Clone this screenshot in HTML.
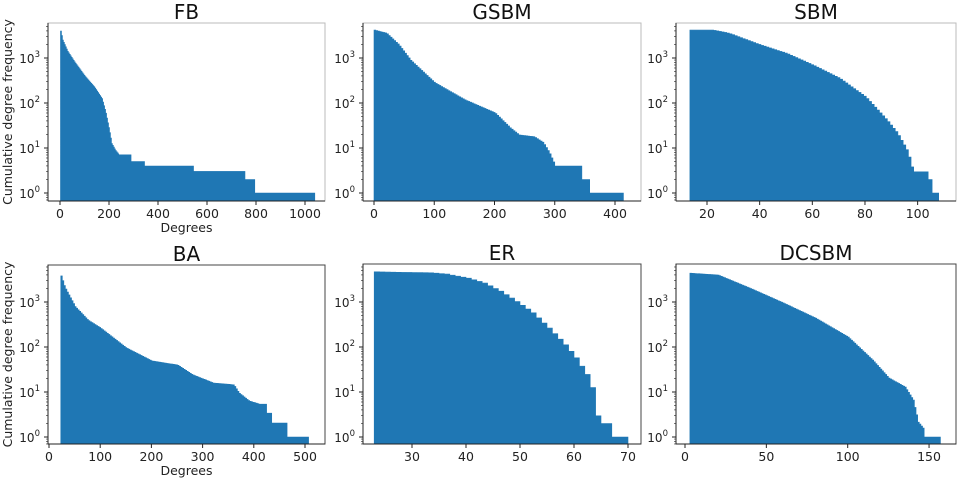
<!DOCTYPE html>
<html><head><meta charset="utf-8"><style>
body{margin:0;background:#fff;}
svg{display:block;font-family:"DejaVu Sans","Liberation Sans",sans-serif;}
</style></head><body>
<svg id="s" width="957" height="481" xmlns="http://www.w3.org/2000/svg"></svg>
<script>
const S=document.getElementById('s');let h='';
function interp(k,d){if(d<=k[0][0])return k[0][1];for(let i=1;i<k.length;i++){if(d<=k[i][0]){const a=k[i-1],b=k[i];return a[1]+(b[1]-a[1])*(d-a[0])/(b[0]-a[0]);}}return k[k.length-1][1];}
function panel(o){
 const {x0,x1,y0,y1,base,dec,xa,xb,title,ticks,steps,ylab,xlab}=o;
 const X=d=>xa+xb*d, Y=l=>base-dec*l;
 let p='M'+X(steps[0][0])+','+y1;
 for(const s of steps){p+=' L'+X(s[0])+','+Y(s[2])+' L'+X(s[1])+','+Y(s[2]);}
 p+=' L'+X(steps[steps.length-1][1])+','+y1+' Z';
 h+=`<path d="${p}" fill="#1f77b4" stroke="#1f77b4" stroke-width="0.6"/>`;
 h+=`<rect x="${x0}" y="${y0}" width="${x1-x0}" height="${y1-y0}" fill="none" stroke="${o.fc||'#bbb'}" stroke-width="1"/>`;
 h+=`<line x1="${x0}" y1="${y0}" x2="${x0}" y2="${y1}" stroke="#222"/><line x1="${x0}" y1="${y1}" x2="${x1}" y2="${y1}" stroke="#222"/>`;
 h+=`<text x="${(x0+x1)/2}" y="${y0-4}" font-size="20" text-anchor="middle" fill="#111">${title}</text>`;
 for(let e=0;e<4;e++){const y=Y(e);h+=`<line x1="${x0-4}" y1="${y}" x2="${x0}" y2="${y}" stroke="#222"/>`;
  h+=`<text x="${x0-8}" y="${y+5}" font-size="12" text-anchor="end" fill="#222">10<tspan dy="-6" font-size="8.5">${e}</tspan></text>`;
  for(let m=2;m<10;m++){const ym=Y(e+Math.log10(m));if(ym>y0)h+=`<line x1="${x0-2}" y1="${ym}" x2="${x0}" y2="${ym}" stroke="#222" stroke-width="0.6"/>`;}}
 for(let m=2;m<10;m++){const ym=Y(-1+Math.log10(m));if(ym<y1)h+=`<line x1="${x0-2}" y1="${ym}" x2="${x0}" y2="${ym}" stroke="#222" stroke-width="0.6"/>`;}
 for(const t of ticks){const x=X(t);h+=`<line x1="${x}" y1="${y1}" x2="${x}" y2="${y1+4}" stroke="#222"/><text x="${x}" y="${y1+17}" font-size="12.5" text-anchor="middle" fill="#222">${t}</text>`;}
 if(xlab)h+=`<text x="${(x0+x1)/2}" y="${y1+31}" font-size="12.5" text-anchor="middle" fill="#222">Degrees</text>`;
 if(ylab)h+=`<text transform="translate(12,${(y0+y1)/2}) rotate(-90)" font-size="12.5" text-anchor="middle" fill="#222">Cumulative degree frequency</text>`;
}
function mk(k,a,b,w,extra){const r=[];for(let d=a;d<b-1e-9;d+=w)r.push([d,Math.min(d+w,b),interp(k,d)]);return r.concat(extra||[]);}
panel({x0:48,x1:325,y0:23,y1:201,base:193,dec:45,xa:60,xb:0.245,title:'FB',ticks:[0,200,400,600,800,1000],ylab:1,xlab:1,
 steps:mk([[2,3.6],[10,3.4],[30,3.15],[60,2.9],[100,2.6],[140,2.35],[170,2.1],[185,1.8],[200,1.4],[210,1.1],[225,0.95],[240,0.85]],2,240,4,
 [[240,290,0.85],[290,345,0.7],[345,545,0.6],[545,755,0.48],[755,795,0.3],[795,1040,0]])});
panel({x0:363,x1:641,y0:23,y1:201,base:193,dec:45,xa:374,xb:0.6025,title:'GSBM',ticks:[0,100,200,300,400],
 steps:mk([[0,3.62],[20,3.55],[40,3.3],[60,2.95],[100,2.45],[150,2.07],[200,1.78],[225,1.45],[240,1.29],[265,1.25],[280,1.12],[290,0.9],[300,0.6]],0,300,3,
 [[300,345,0.6],[345,358,0.3],[358,414,0]])});
panel({x0:676,x1:956,y0:23,y1:201,base:193,dec:45,xa:707-20*2.633,xb:2.633,title:'SBM',ticks:[20,40,60,80,100],
 steps:mk([[13.5,3.62],[22,3.62],[28,3.55],[40,3.29],[50,3.1],[60,2.84],[70,2.55],[80,2.13],[88,1.62],[92,1.33],[96,0.91],[98,0.47]],13.5,100,1,
 [[100,104,0.47],[104,105.5,0.3],[105.5,108,0]])});
panel({x0:48,x1:325,y0:265,y1:444,base:437,dec:45,xa:49,xb:0.512,title:'BA',ticks:[0,100,200,300,400,500],ylab:1,xlab:1,fc:'#444',
 steps:mk([[23,3.58],[30,3.33],[50,2.9],[75,2.6],[100,2.42],[150,1.98],[200,1.69],[250,1.6],[280,1.38],[320,1.2],[360,1.16],[370,0.98],[390,0.8],[410,0.73]],23,410,3,
 [[410,425,0.73],[425,435,0.53],[435,465,0.31],[465,507,0]])});
panel({x0:363,x1:641,y0:264,y1:444,base:437,dec:45,xa:412-30*5.4,xb:5.4,title:'ER',ticks:[30,40,50,60,70],fc:'#444',
 steps:mk([[23,3.67],[27,3.66],[33,3.65],[36,3.62],[40,3.53],[43,3.42],[46,3.24],[49,3.01],[52,2.76],[55,2.42],[58,2.05],[60,1.76],[62,1.39],[63,1.1],[64,0.84]],23,64,1,
 [[64,65,0.47],[65,67,0.3],[67,70,0]])});
panel({x0:676,x1:956,y0:264,y1:444,base:437,dec:45,xa:685,xb:1.627,title:'DCSBM',ticks:[0,50,100,150],fc:'#444',
 steps:mk([[3,3.64],[20,3.6],[40,3.3],[60,2.98],[80,2.64],[100,2.22],[115,1.71],[125,1.31],[135,1.11],[140,0.82],[143,0.33],[146,0.2]],3,147,1,
 [[147,157,0]])});
S.innerHTML=h;
</script>
</body></html>
